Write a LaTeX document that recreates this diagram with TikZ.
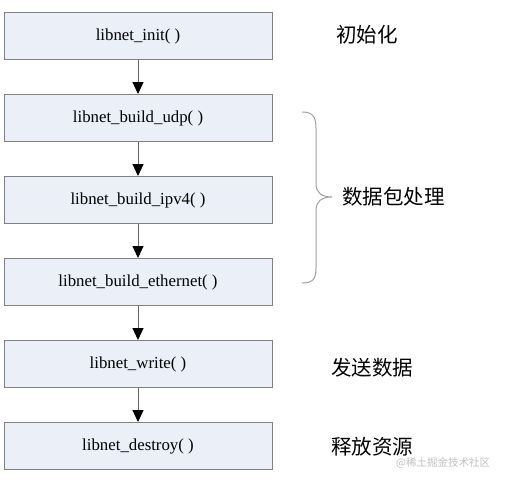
\documentclass[tikz,border=0pt]{standalone}
\usepackage{fontspec}
\setmainfont{Liberation Serif}
\newfontfamily\cjk{Noto Sans CJK SC}
\usetikzlibrary{arrows.meta}
\definecolor{boxfill}{HTML}{EAEFF8}
\definecolor{boxline}{HTML}{808080}
\definecolor{bracecol}{HTML}{A0A0A0}
\tikzset{
  stepbox/.style={draw=boxline, fill=boxfill, line width=1pt, minimum width=268pt, minimum height=47pt, inner sep=0pt, font=\fontsize{16.8}{20}\selectfont},
  flow/.style={draw=boxline!80!black, line width=1pt, -{Triangle[length=12pt,width=11pt,fill=black,color=black]}},
  cnlabel/.style={anchor=west, inner sep=0pt, font=\cjk\fontsize{20.5}{24}\selectfont},
}
\begin{document}
\begin{tikzpicture}[x=1pt,y=-1pt]
\useasboundingbox (0,0) rectangle (505,483);
\node[stepbox] (init) at (138,36) {libnet\_init( )};
\node[stepbox] (udp) at (138,118) {libnet\_build\_udp( )};
\node[stepbox] (ipv4) at (138,200) {libnet\_build\_ipv4( )};
\node[stepbox] (eth) at (138,282) {libnet\_build\_ethernet( )};
\node[stepbox] (write) at (138,364) {libnet\_write( )};
\node[stepbox] (destroy) at (138,446) {libnet\_destroy( )};
\draw[flow] (init) -- (udp);
\draw[flow] (udp) -- (ipv4);
\draw[flow] (ipv4) -- (eth);
\draw[flow] (eth) -- (write);
\draw[flow] (write) -- (destroy);
\draw[bracecol, line width=1pt] (302,112) .. controls (312,112) and (316,116) .. (316,128) -- (316,184) .. controls (316,193) and (322,197) .. (332,197) .. controls (322,197) and (316,201) .. (316,210) -- (316,268) .. controls (316,280) and (312,283) .. (302,283);
\node[cnlabel] (lbinit) at (336,35) {初始化};
\node[cnlabel] (lbpkt) at (342,197) {数据包处理};
\node[cnlabel] (lbsend) at (331,368) {发送数据};
\node[cnlabel] (lbfree) at (331,447) {释放资源};
\node[anchor=west, inner sep=0pt, text=black!25, font=\cjk\fontsize{10.5}{12}\selectfont] (wm) at (396,463) {@稀土掘金技术社区};
\end{tikzpicture}
\end{document}
